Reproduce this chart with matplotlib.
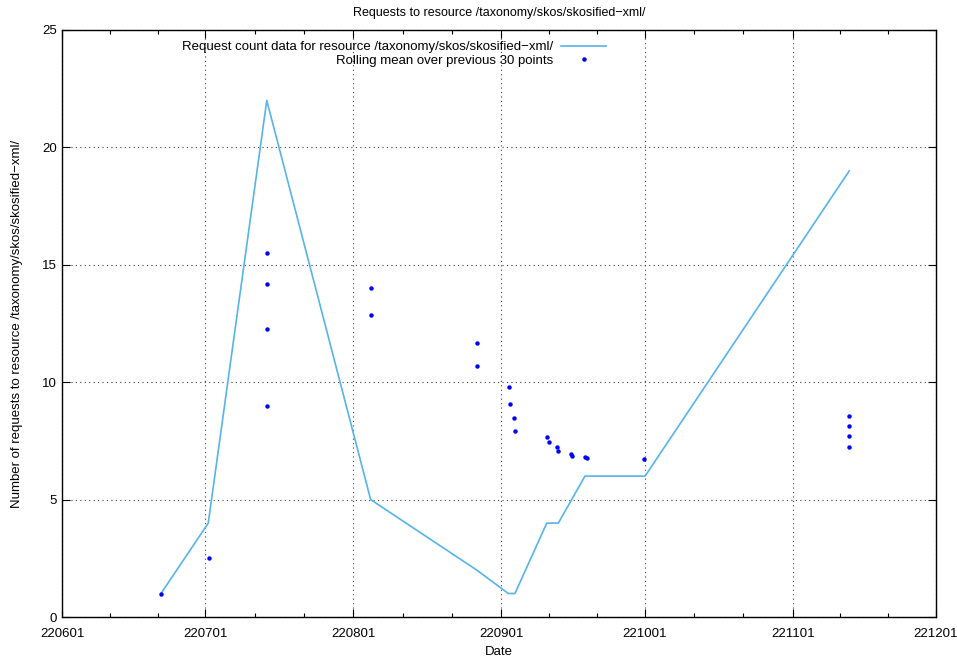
import numpy as np
import pandas as pd
import matplotlib
matplotlib.use('Agg')
import matplotlib.pyplot as plt
import matplotlib.dates as mdates

plt.rcParams['font.family'] = ['Liberation Sans', 'DejaVu Sans']
plt.rcParams['font.size'] = 9.5

# request counts (line)
count_dates = ['2022-06-21 17:30', '2022-07-01 15:00', '2022-07-13 21:00',
               '2022-08-04 15:00', '2022-08-26 20:00', '2022-09-02 11:00',
               '2022-09-03 20:00', '2022-09-10 12:00', '2022-09-12 22:00',
               '2022-09-18 12:00', '2022-10-01 02:00', '2022-11-12 20:00']
count_vals = [1, 4, 22, 5, 2, 1, 1, 4, 4, 6, 6, 19]

# rolling mean over previous 30 points (dots)
mean_dates = ['2022-06-21 17:30', '2022-07-01 17:00',
              '2022-07-13 22:00', '2022-07-13 22:00', '2022-07-13 22:00', '2022-07-13 20:00',
              '2022-08-04 19:00', '2022-08-04 19:00',
              '2022-08-26 19:00', '2022-08-26 19:00',
              '2022-09-02 14:00', '2022-09-02 21:00', '2022-09-03 14:00', '2022-09-03 22:00',
              '2022-09-10 13:00', '2022-09-10 23:00', '2022-09-12 14:00', '2022-09-12 22:00',
              '2022-09-15 12:00', '2022-09-15 20:00', '2022-09-18 12:00', '2022-09-18 22:00',
              '2022-09-30 21:00',
              '2022-11-12 20:00', '2022-11-12 20:00', '2022-11-12 20:00', '2022-11-12 20:00']
mean_vals = [1.0, 2.5,
             15.5, 14.2, 12.25, 9.0,
             14.0, 12.87,
             11.66, 10.7,
             9.81, 9.08, 8.46, 7.93,
             7.68, 7.44, 7.24, 7.06,
             6.96, 6.86, 6.81, 6.77,
             6.73,
             8.56, 8.15, 7.72, 7.25]

cx = pd.to_datetime(count_dates)
mx = pd.to_datetime(mean_dates)

fig = plt.figure(figsize=(9.57, 6.62), dpi=100)
ax = fig.add_axes([62/957, 45/662, 874/957, 587/662])

ax.plot(cx, count_vals, color='#56b4e9', lw=1.2,
        label='Request count data for resource /taxonomy/skos/skosified\u2212xml/')
ax.plot(mx, mean_vals, 'o', color='#0000ff', ms=3.2, mec='none',
        label='Rolling mean over previous 30 points')

months = pd.date_range('2022-06-01', '2022-12-01', freq='MS')
minor = []
for a, b in zip(months[:-1], months[1:]):
    minor += [a + (b - a) / 3, a + 2 * (b - a) / 3]
ax.set_xticks(months)
ax.set_xticks(minor, minor=True)
ax.xaxis.set_major_formatter(mdates.DateFormatter('%y%m%d'))
ax.set_xlim(months[0], months[-1])
ax.set_ylim(0, 25)
ax.set_yticks([0, 5, 10, 15, 20, 25])

ax.tick_params(which='both', direction='in', top=True, right=True, width=0.8)
ax.tick_params(which='major', length=6)
ax.tick_params(which='minor', length=3)
ax.tick_params(axis='x', pad=8)
for s in ax.spines.values():
    s.set_linewidth(1.0)

ax.grid(True, which='major', color='0.25', linestyle=(0, (1, 3)), lw=0.8)

ax.set_title('Requests to resource /taxonomy/skos/skosified\u2212xml/', fontsize=9, pad=10)
ax.set_xlabel('Date', labelpad=4)
ax.set_ylabel('Number of requests to resource /taxonomy/skos/skosified\u2212xml/', labelpad=14)

leg = ax.legend(loc='upper right', bbox_to_anchor=(0.633, 0.997), frameon=False,
                markerfirst=False, handlelength=3.4, numpoints=1,
                labelspacing=0.08, handletextpad=0.6, borderpad=0.2)
for col in leg._legend_handle_box.get_children():
    col.align = 'right'

fig.savefig('out.png', dpi=100)
